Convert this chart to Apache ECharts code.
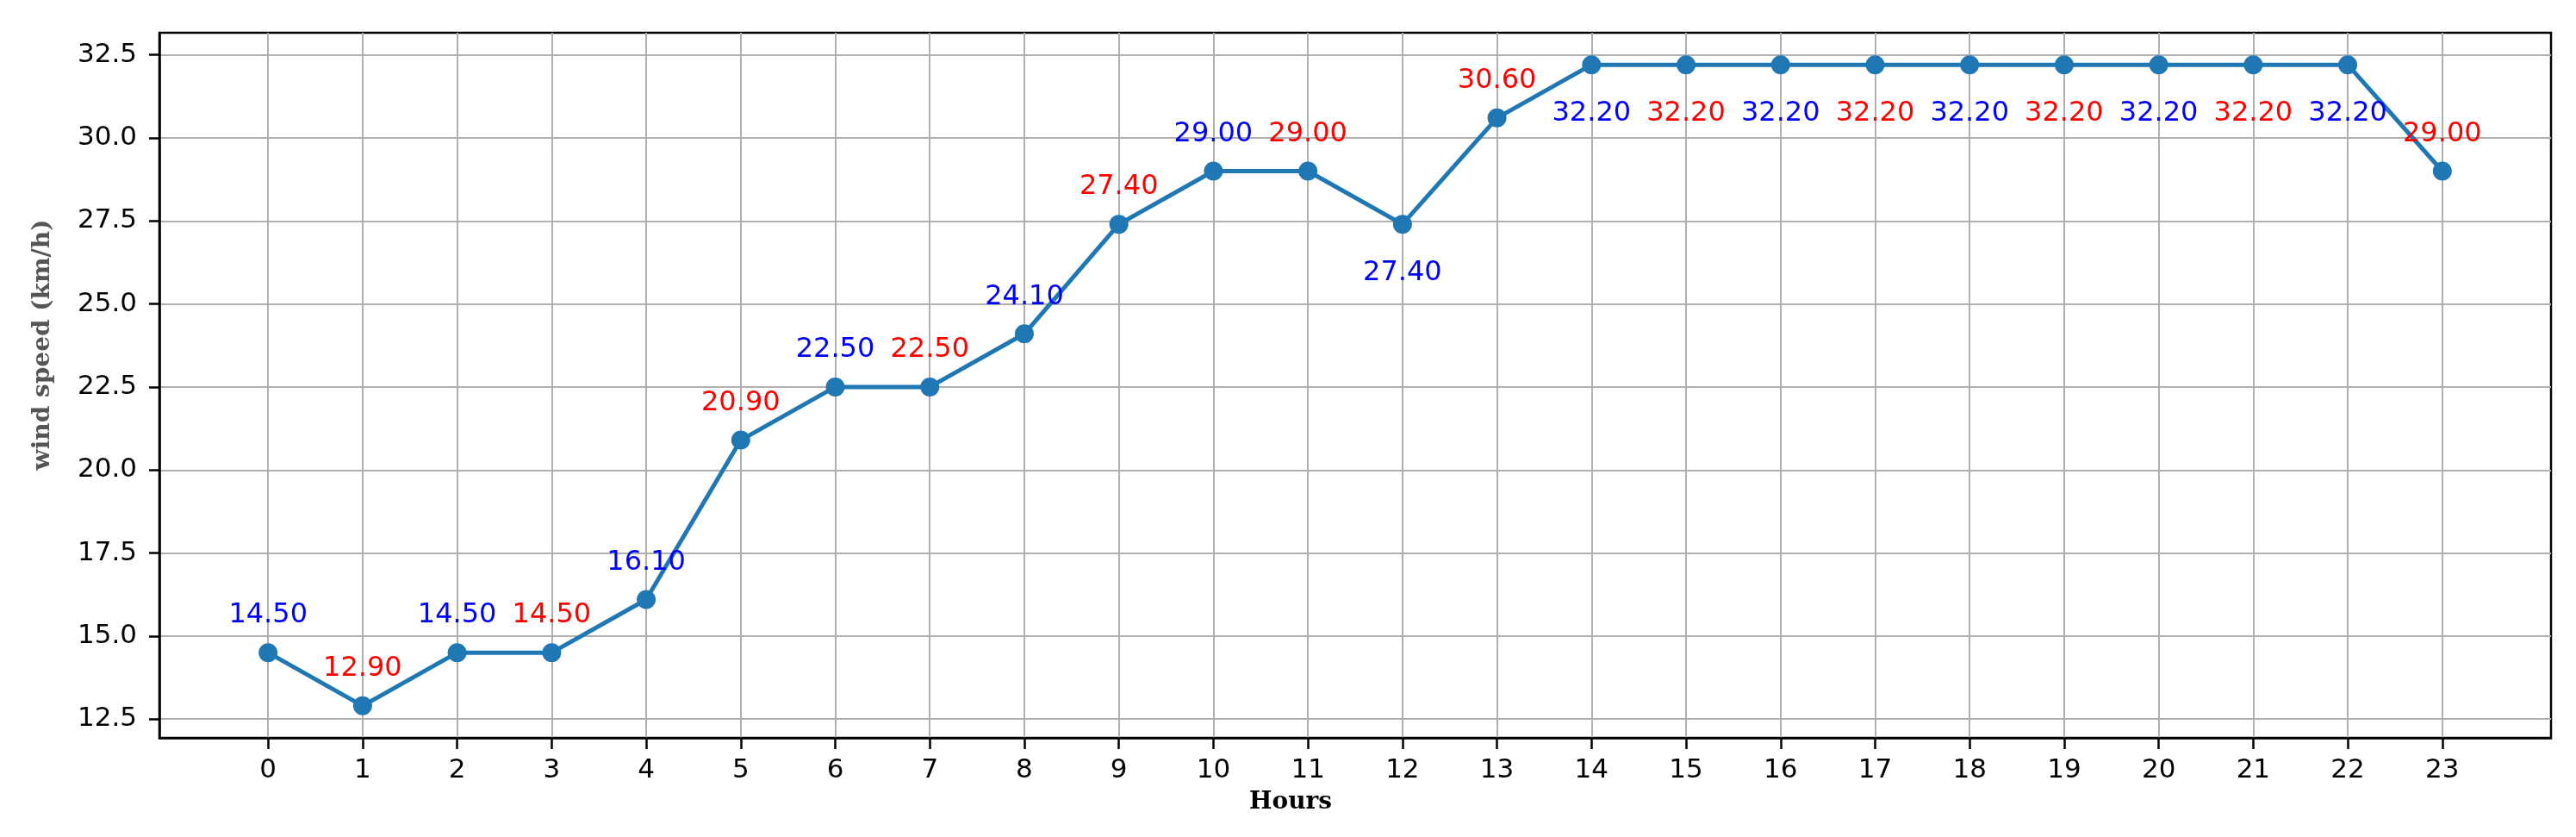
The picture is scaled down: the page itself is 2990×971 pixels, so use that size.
<html lang="en">
  <head>
    <meta charset="UTF-8" />
    <title>wind speed</title>
    <style>
      html, body { margin: 0; padding: 0; background: #fff; }
      #main { width: 2990px; height: 971px; }
    </style>
  </head>
  <body>
    <div id="main"></div>

    <script src="https://cdn.jsdelivr.net/npm/echarts@6/dist/echarts.min.js"></script>
    <script>
      // data
      let hours = [0, 1, 2, 3, 4, 5, 6, 7, 8, 9, 10, 11, 12, 13, 14, 15, 16, 17, 18, 19, 20, 21, 22, 23]
      let speed = [14.5, 12.9, 14.5, 14.5, 16.1, 20.9, 22.5, 22.5, 24.1, 27.4, 29.0, 29.0, 27.4, 30.6,
        32.2, 32.2, 32.2, 32.2, 32.2, 32.2, 32.2, 32.2, 32.2, 29.0]
      let yTicks = [12.5, 15, 17.5, 20, 22.5, 25, 27.5, 30, 32.5]
      // hours whose value label sits under the point
      let labelBelow = [12, 14, 15, 16, 17, 18, 19, 20, 21, 22]

      let myChart = echarts.init(document.getElementById('main'))

      let points = hours.map(function (h, i) {
        let below = labelBelow.indexOf(h) >= 0
        return {
          value: [h, speed[i]],
          label: {
            show: true,
            position: below ? 'bottom' : 'top',
            distance: below ? 30 : 16,
            color: i % 2 === 0 ? '#0000ff' : '#ff0000',
            fontFamily: 'DejaVu Sans',
            fontSize: 32,
            formatter: function (p) { return p.value[1].toFixed(2) }
          }
        }
      })

      let option = {
        animation: false,
        grid: {
          left: 185,
          right: 29,
          top: 38,
          bottom: 115,
          show: true,
          borderColor: '#000',
          borderWidth: 2.5
        },
        xAxis: {
          type: 'value',
          min: -1.15,
          max: 24.15,
          axisLine: { show: true, onZero: false, lineStyle: { color: '#000', width: 2.5 } },
          axisTick: { show: true, length: 13, customValues: hours, lineStyle: { color: '#000', width: 2.5 } },
          axisLabel: {
            customValues: hours,
            margin: 22,
            color: '#000',
            fontFamily: 'DejaVu Sans',
            fontSize: 31
          },
          splitLine: { show: true, lineStyle: { color: '#b0b0b0', width: 2 } }
        },
        yAxis: {
          type: 'value',
          min: 11.935,
          max: 33.165,
          axisLine: { show: true, onZero: false, lineStyle: { color: '#000', width: 2.5 } },
          axisTick: { show: true, length: 12, customValues: yTicks, lineStyle: { color: '#000', width: 2.5 } },
          axisLabel: {
            customValues: yTicks,
            margin: 26,
            color: '#000',
            fontFamily: 'DejaVu Sans',
            fontSize: 31,
            formatter: function (v) { return v.toFixed(1) }
          },
          splitLine: { show: true, lineStyle: { color: '#b0b0b0', width: 2 } }
        },
        graphic: [
          {
            type: 'text',
            x: 1498,
            y: 931,
            style: {
              text: 'Hours',
              fill: '#000',
              font: 'bold 28px "DejaVu Serif"',
              textAlign: 'center',
              textVerticalAlign: 'middle'
            }
          },
          {
            type: 'text',
            x: 50,
            y: 400,
            rotation: Math.PI / 2,
            style: {
              text: 'wind speed (km/h)',
              fill: '#555',
              font: 'bold 28px "DejaVu Serif"',
              textAlign: 'center',
              textVerticalAlign: 'middle'
            }
          }
        ],
        series: [
          {
            type: 'line',
            data: points,
            symbol: 'circle',
            symbolSize: 22,
            lineStyle: { color: '#1f77b4', width: 5 },
            itemStyle: { color: '#1f77b4' }
          }
        ]
      }
      myChart.setOption(option)
    </script>
  </body>
</html>
